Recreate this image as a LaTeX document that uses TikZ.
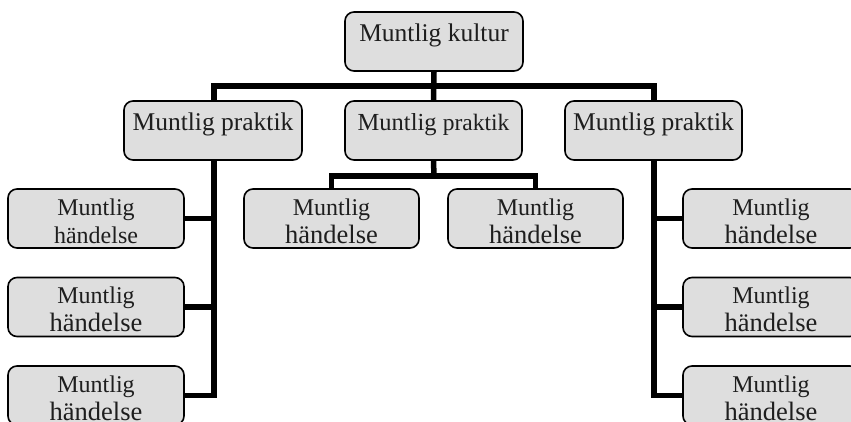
\documentclass[tikz,border=0pt]{standalone}
\usepackage{fontspec}
\setmainfont{Liberation Serif}
\usetikzlibrary{backgrounds}
\definecolor{boxfill}{HTML}{DEDEDE}
\definecolor{txt}{HTML}{1E1E1E}
\tikzset{
  orgbox/.style={draw=black, line width=1.6pt, rounded corners=9pt, fill=boxfill,
    text=txt, inner sep=0pt, minimum height=59pt, align=center},
  onel/.style={orgbox, font=\fontsize{25.5}{28}\selectfont, text height=12pt, text depth=12pt},
  twol/.style={orgbox, font=\fontsize{24}{28}\selectfont},
  link/.style={line width=5.5pt, black}
}
\newcommand{\bigword}[1]{{\fontsize{26.5}{28}\selectfont #1}}
\newcommand{\firstl}[1]{\rule{0pt}{22pt}#1}
\begin{document}
\begin{tikzpicture}[x=1pt,y=-1pt]
\useasboundingbox (0,0) rectangle (851,422);
\node[onel, minimum width=178pt] (top) at (434,41.5) {Muntlig kultur};
\node[onel, minimum width=178pt] (pl) at (213,130.5) {Muntlig praktik};
\node[onel, minimum width=177pt] (pm) at (433.5,130.5) {\fontsize{24.5}{28}\selectfont Muntlig {\fontsize{23.5}{28}\selectfont praktik}};
\node[onel, minimum width=177pt] (pr) at (653.5,130.5) {Muntlig praktik};

\node[twol, minimum width=176pt] (l1) at (96,218.5) {\firstl{Muntlig}\\händelse};
\node[twol, minimum width=176pt] (l2) at (96,307) {\firstl{Muntlig}\\\bigword{händelse}};
\node[twol, minimum width=176pt] (l3) at (96,395.5) {\firstl{Muntlig}\\\bigword{händelse}};

\node[twol, minimum width=175pt] (m1) at (331.5,218.5) {\firstl{Muntlig}\\\bigword{händelse}};
\node[twol, minimum width=175pt] (m2) at (535.5,218.5) {\firstl{Muntlig}\\\bigword{händelse}};

\node[twol, minimum width=176pt] (r1) at (771,218.5) {\firstl{Muntlig}\\\bigword{händelse}};
\node[twol, minimum width=176pt] (r2) at (771,307) {\firstl{Muntlig}\\\bigword{händelse}};
\node[twol, minimum width=176pt] (r3) at (771,395.5) {\firstl{Muntlig}\\\bigword{händelse}};

\coordinate (hl) at (214,86);
\coordinate (hr) at (654,86);
\coordinate (mbar) at (434,176);

\begin{scope}[on background layer]
\draw[link] (top.south) -- (pm.north);
\draw[link] (pl.north -| hl) -- (hl) -- (hr) -- (pr.north -| hr);
\draw[link] (pl.south -| hl) |- (l3.east);
\draw[link] (hl |- l1.east) -- (l1.east);
\draw[link] (hl |- l2.east) -- (l2.east);
\draw[link] (pr.south -| hr) |- (r3.west);
\draw[link] (hr |- r1.west) -- (r1.west);
\draw[link] (hr |- r2.west) -- (r2.west);
\draw[link] (pm.south) -- (mbar);
\draw[link] (m1.north) |- (mbar) -| (m2.north);
\end{scope}
\end{tikzpicture}
\end{document}
